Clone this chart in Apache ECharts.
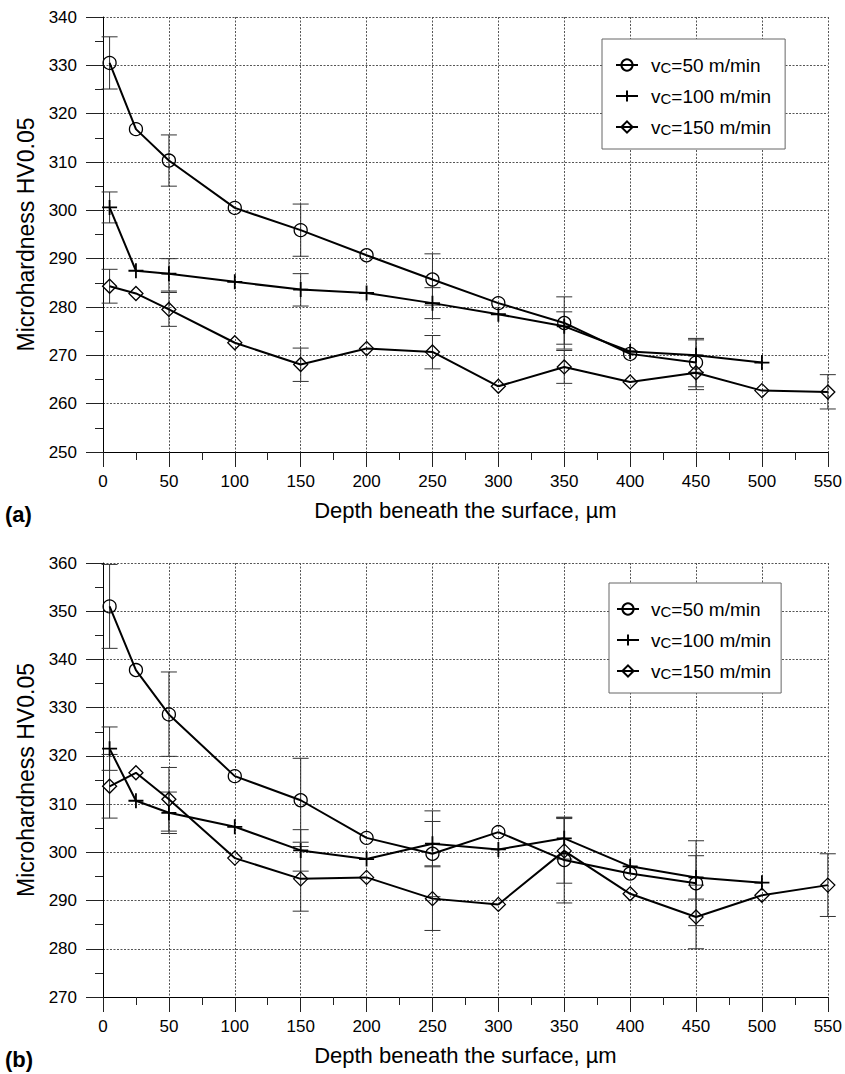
<!DOCTYPE html>
<html>
<head>
<meta charset="utf-8">
<script src="https://cdn.jsdelivr.net/npm/echarts@6/dist/echarts.min.js"></script>
<style>
  html, body { margin: 0; padding: 0; background: #fff; }
  #chart { width: 845px; height: 1074px; }
</style>
</head>
<body>
<div id="chart"></div>
<script>
// ---- data ----
const xTicks = [0, 50, 100, 150, 200, 250, 300, 350, 400, 450, 500, 550];

// (a)
const depthA50 = [5, 25, 50, 100, 150, 200, 250, 300, 350, 400, 450];
const hvA50 = [330.5, 316.8, 310.3, 300.5, 295.9, 290.7, 285.7, 280.8, 276.7, 270.3, 268.5];
const depthA100 = [5, 25, 50, 100, 150, 200, 250, 300, 350, 400, 450, 500];
const hvA100 = [300.6, 287.5, 286.9, 285.2, 283.6, 282.9, 280.8, 278.5, 276.0, 270.8, 270.0, 268.5];
const depthA150 = [5, 25, 50, 100, 150, 200, 250, 300, 350, 400, 450, 500, 550];
const hvA150 = [284.3, 282.8, 279.5, 272.6, 268.1, 271.4, 270.7, 263.6, 267.6, 264.5, 266.4, 262.7, 262.4];

const errXA50 = [5, 50, 150, 250, 350, 450];
const errLoA50 = [325.1, 305.0, 290.5, 280.4, 271.3, 263.5];
const errHiA50 = [335.9, 315.6, 301.3, 291.0, 282.1, 273.5];
const errXA100 = [5, 50, 150, 250, 350, 450];
const errLoA100 = [297.4, 283.3, 280.2, 277.6, 272.3, 266.5];
const errHiA100 = [303.8, 290.0, 286.9, 284.0, 279.0, 273.2];
const errXA150 = [5, 50, 150, 250, 350, 450, 550];
const errLoA150 = [280.8, 276.0, 264.6, 267.2, 264.2, 262.9, 258.9];
const errHiA150 = [287.8, 283.0, 271.5, 274.1, 271.0, 269.9, 266.0];

// (b)
const depthB50 = [5, 25, 50, 100, 150, 200, 250, 300, 350, 400, 450];
const hvB50 = [351.0, 337.8, 328.6, 315.8, 310.8, 303.0, 299.7, 304.2, 298.4, 295.6, 293.6];
const depthB100 = [5, 25, 50, 100, 150, 200, 250, 300, 350, 400, 450, 500];
const hvB100 = [321.5, 310.7, 308.2, 305.3, 300.4, 298.6, 301.8, 300.6, 302.9, 297.1, 294.8, 293.7];
const depthB150 = [5, 25, 50, 100, 150, 200, 250, 300, 350, 400, 450, 500, 550];
const hvB150 = [313.7, 316.5, 311.0, 298.8, 294.5, 294.8, 290.4, 289.2, 300.3, 291.4, 286.6, 291.1, 293.2];

const errXB50 = [5, 50, 150, 250, 350, 450];
const errLoB50 = [342.3, 319.9, 302.1, 290.8, 289.5, 284.8];
const errHiB50 = [359.7, 337.4, 319.5, 308.6, 307.3, 302.4];
const errXB100 = [5, 50, 150, 250, 350, 450];
const errLoB100 = [317.0, 303.9, 296.1, 297.2, 298.6, 290.3];
const errHiB100 = [326.0, 312.5, 304.7, 306.4, 307.2, 299.3];
const errXB150 = [5, 50, 150, 250, 350, 450, 550];
const errLoB150 = [307.1, 304.4, 287.8, 283.8, 293.6, 280.0, 286.7];
const errHiB150 = [320.3, 317.6, 301.2, 297.0, 307.0, 293.2, 299.7];

const legendText = {
  a50: 'v{sub|C}=50 m/min', a100: 'v{sub|C}=100 m/min', a150: 'v{sub|C}=150 m/min',
  b50: 'v{sub|C}=50 m/min', b100: 'v{sub|C}=100 m/min', b150: 'v{sub|C}=150 m/min'
};

const FONT = '"Liberation Sans", Arial, Helvetica, sans-serif';
const PLUS = 'path://M0,7H14M7,0V14';

const chart = echarts.init(document.getElementById('chart'), null, { renderer: 'svg' });

function pairs (xs, ys) {
    return xs.map((x, i) => [x, ys[i]]);
}

function lineSeries (name, idx, xs, ys, symbol, size) {
    return {
        name: name,
        type: 'line',
        xAxisIndex: idx,
        yAxisIndex: idx,
        data: pairs(xs, ys),
        symbol: symbol,
        symbolSize: size,
        showSymbol: true,
        z: 3,
        lineStyle: { color: '#000', width: 2 },
        itemStyle: { color: 'rgba(0,0,0,0)', borderColor: '#000', borderWidth: symbol === PLUS ? 1.8 : 1.3 },
        emphasis: { disabled: true }
    };
}

function errSeries (idx, xs, lows, highs) {
    return {
        type: 'custom',
        xAxisIndex: idx,
        yAxisIndex: idx,
        silent: true,
        z: 1,
        data: xs.map((x, i) => [x, lows[i], highs[i]]),
        encode: { x: 0, y: [1, 2] },
        renderItem: (params, api) => {
            const lo = api.coord([api.value(0), api.value(1)]);
            const hi = api.coord([api.value(0), api.value(2)]);
            const w = 8;
            const st = { stroke: '#333', lineWidth: 1 };
            return {
                type: 'group',
                children: [
                    { type: 'line', shape: { x1: lo[0], y1: lo[1], x2: hi[0], y2: hi[1] }, style: st },
                    { type: 'line', shape: { x1: lo[0] - w, y1: lo[1], x2: lo[0] + w, y2: lo[1] }, style: st },
                    { type: 'line', shape: { x1: hi[0] - w, y1: hi[1], x2: hi[0] + w, y2: hi[1] }, style: st }
                ]
            };
        }
    };
}

function xAxis (idx) {
    return {
        type: 'value',
        gridIndex: idx,
        min: 0,
        max: 550,
        interval: 50,
        name: 'Depth beneath the surface, µm',
        nameLocation: 'middle',
        nameGap: 47,
        nameTextStyle: { fontSize: 22, color: '#000', fontFamily: FONT },
        axisLine: { show: true, onZero: false, lineStyle: { color: '#000', width: 1 } },
        axisTick: { show: true, length: 15, lineStyle: { color: '#222' } },
        minorTick: { show: true, splitNumber: 2, length: 8, lineStyle: { color: '#222' } },
        axisLabel: { fontSize: 17, color: '#000', fontFamily: FONT, margin: 21 },
        splitLine: { show: true, lineStyle: { type: [2, 1.5], color: '#555', width: 1 } }
    };
}

function yAxis (idx, min, max) {
    return {
        type: 'value',
        gridIndex: idx,
        min: min,
        max: max,
        interval: 10,
        name: 'Microhardness HV0.05',
        nameLocation: 'middle',
        nameRotate: 90,
        nameGap: 65,
        nameTextStyle: { fontSize: 23, color: '#000', fontFamily: FONT },
        axisLine: { show: true, onZero: false, lineStyle: { color: '#000', width: 1 } },
        axisTick: { show: true, length: 17, lineStyle: { color: '#222' } },
        minorTick: { show: true, splitNumber: 2, length: 8, lineStyle: { color: '#222' } },
        axisLabel: { fontSize: 17, color: '#000', fontFamily: FONT, margin: 26 },
        splitLine: { show: true, lineStyle: { type: [2, 1.5], color: '#555', width: 1 } }
    };
}

function legend (names, left, top, padLeft, padRight, textPad) {
    return {
        data: names,
        orient: 'vertical',
        left: left,
        top: top,
        padding: [16, padRight, 12, padLeft],
        itemGap: 11,
        itemWidth: 22,
        itemHeight: 14,
        selectedMode: false,
        backgroundColor: '#fff',
        borderColor: '#666',
        borderWidth: 1,
        formatter: n => legendText[n],
        textStyle: {
            fontSize: 19,
            lineHeight: 20,
            color: '#000',
            fontFamily: FONT,
            padding: [0, 0, 0, textPad],
            rich: { sub: { fontSize: 15, lineHeight: 14, verticalAlign: 'bottom', fontFamily: FONT, color: '#000' } }
        }
    };
}

const option = {
    animation: false,
    backgroundColor: '#fff',
    title: [
        { text: '(a)', left: 5, top: 503, padding: 0, textStyle: { fontSize: 22, fontWeight: 'bold', color: '#000', fontFamily: FONT } },
        { text: '(b)', left: 5, top: 1048, padding: 0, textStyle: { fontSize: 22, fontWeight: 'bold', color: '#000', fontFamily: FONT } }
    ],
    grid: [
        { left: 103, top: 17, width: 725, height: 435 },
        { left: 103, top: 563, width: 725, height: 434 }
    ],
    xAxis: [xAxis(0), xAxis(1)],
    yAxis: [yAxis(0, 250, 340), yAxis(1, 270, 360)],
    legend: [
        legend(['a50', 'a100', 'a150'], 602, 39, 13, 14, 8),
        legend(['b50', 'b100', 'b150'], 609, 583, 7, 10, 7)
    ],
    series: [
        errSeries(0, errXA50, errLoA50, errHiA50),
        errSeries(0, errXA100, errLoA100, errHiA100),
        errSeries(0, errXA150, errLoA150, errHiA150),
        errSeries(1, errXB50, errLoB50, errHiB50),
        errSeries(1, errXB100, errLoB100, errHiB100),
        errSeries(1, errXB150, errLoB150, errHiB150),
        lineSeries('a50', 0, depthA50, hvA50, 'circle', 13),
        lineSeries('a100', 0, depthA100, hvA100, PLUS, 15),
        lineSeries('a150', 0, depthA150, hvA150, 'diamond', 14),
        lineSeries('b50', 1, depthB50, hvB50, 'circle', 13),
        lineSeries('b100', 1, depthB100, hvB100, PLUS, 15),
        lineSeries('b150', 1, depthB150, hvB150, 'diamond', 14)
    ]
};

chart.setOption(option);
</script>
</body>
</html>
